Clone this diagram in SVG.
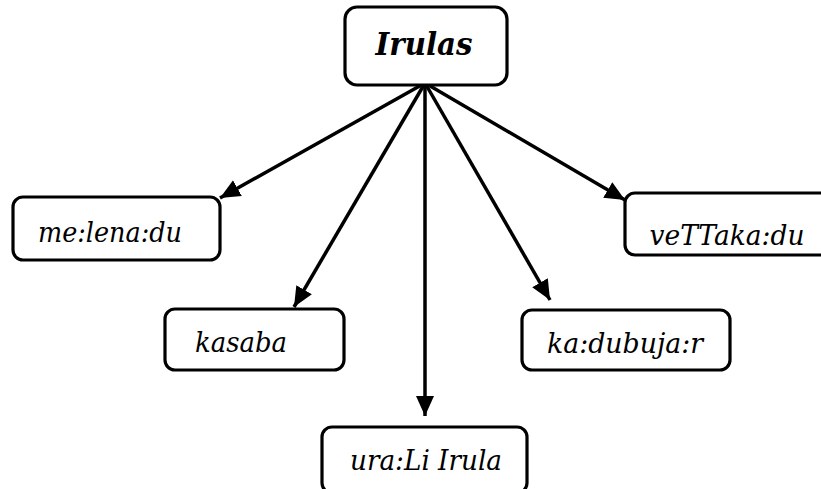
<svg xmlns="http://www.w3.org/2000/svg" width="821" height="489" viewBox="0 0 821 489">
<style>
.box{fill:#fff;stroke:#000;stroke-width:3.2}
.t{font-family:"DejaVu Serif","Liberation Serif",serif;font-style:italic;font-size:28px;fill:#000;text-anchor:middle}
.h{font-family:"DejaVu Serif","Liberation Serif",serif;font-style:italic;font-weight:bold;font-size:32px;fill:#000;text-anchor:middle}
.c{stroke:#000;stroke-width:3.5;fill:none;marker-end:url(#ah)}
</style>
<defs>
<marker id="ah" markerUnits="userSpaceOnUse" markerWidth="22" markerHeight="20" refX="20" refY="10" orient="auto">
<path d="M0,1 L20,10 L0,19 Z" fill="#000"/>
</marker>
</defs>
<g id="connectors">
<line class="c" x1="425" y1="83" x2="220" y2="198"/>
<line class="c" x1="425" y1="83" x2="294" y2="307"/>
<line class="c" x1="425" y1="83" x2="425" y2="416"/>
<line class="c" x1="425" y1="83" x2="550" y2="300"/>
<line class="c" x1="425" y1="83" x2="625" y2="200"/>
</g>
<g id="irulas">
<rect class="box" x="345" y="7" width="162" height="78" rx="12"/>
<text class="h" x="424" y="55" textLength="97" lengthAdjust="spacingAndGlyphs">Irulas</text>
</g>
<g id="melenadu">
<rect class="box" x="13" y="197" width="207" height="63" rx="10"/>
<text class="t" x="110" y="242" textLength="144" lengthAdjust="spacingAndGlyphs">me:lena:du</text>
</g>
<g id="vettakadu">
<rect class="box" x="625" y="193" width="210" height="62" rx="10"/>
<text class="t" x="727" y="245" textLength="155" lengthAdjust="spacingAndGlyphs">veTTaka:du</text>
</g>
<g id="kasaba">
<rect class="box" x="165" y="309" width="179" height="61" rx="10"/>
<text class="t" x="241" y="352" textLength="92" lengthAdjust="spacingAndGlyphs">kasaba</text>
</g>
<g id="kadubujar">
<rect class="box" x="522" y="310" width="208" height="60" rx="10"/>
<text class="t" x="625" y="353" textLength="156" lengthAdjust="spacingAndGlyphs">ka:dubuja:r</text>
</g>
<g id="uralirula">
<rect class="box" x="322" y="427" width="205" height="66" rx="10"/>
<text class="t" x="426" y="470" textLength="152" lengthAdjust="spacingAndGlyphs">ura:Li Irula</text>
</g>
</svg>
